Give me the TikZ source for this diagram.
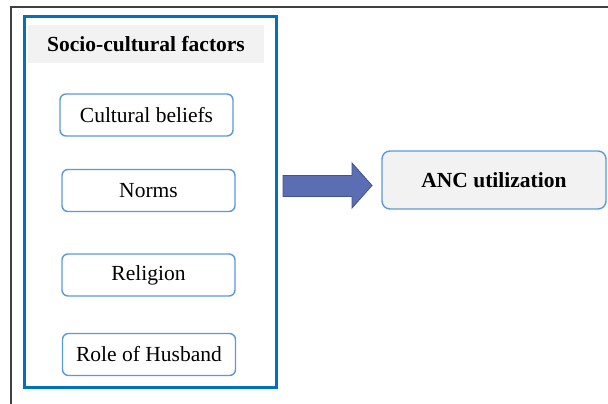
\documentclass[tikz,border=0pt]{standalone}
\usepackage{fontspec}
\setmainfont{Liberation Serif}
\definecolor{frameblue}{RGB}{0,112,192}
\definecolor{boxblue}{RGB}{91,155,213}
\definecolor{lightgray}{RGB}{242,242,242}
\definecolor{arrowfill}{RGB}{91,110,180}
\definecolor{arrowedge}{RGB}{65,82,143}
\begin{document}
\begin{tikzpicture}[x=1pt,y=-1pt,
  factor/.style={draw=boxblue, line width=1.4pt, rounded corners=6pt, fill=white,
    minimum width=173pt, minimum height=42pt, inner sep=0pt,
    font=\fontsize{21.5}{24}\selectfont},
  outcome/.style={draw=boxblue, line width=1.4pt, rounded corners=8pt, fill=lightgray,
    minimum width=224pt, minimum height=58pt, inner sep=0pt,
    font=\fontsize{21.5}{24}\selectfont\bfseries},
  header/.style={fill=lightgray, minimum width=236pt, minimum height=38pt, inner sep=0pt,
    font=\fontsize{21.5}{24}\selectfont\bfseries}]
\useasboundingbox (0,0) rectangle (608,404);
% outer frame lines
\draw[line width=1.2pt, black!75] (11,404) -- (11,7) -- (608,7);
% big blue box
\draw[frameblue, line width=3pt] (24,16.5) rectangle (276,387.5);
\node[header] (hdr) at (146,44.5) {Socio-cultural factors};
\node[factor] (cb) at (146.5,115) {Cultural beliefs};
\node[factor] (nm) at (148.5,190.5) {Norms};
\node[factor] (rl) at (148.5,275) {Religion};
\node[factor] (rh) at (149,354.5) {Role of Husband};
\node[outcome] (anc) at (494,180) {ANC utilization};
% block arrow
\coordinate (atip) at (372,185.5);
\draw[arrowedge, fill=arrowfill, line width=0.8pt, line join=miter]
  (283,175.5) -- (352,175.5) -- (352,163) -- (atip) -- (352,208) -- (352,196.5) -- (283,196.5) -- cycle;
\end{tikzpicture}
\end{document}
